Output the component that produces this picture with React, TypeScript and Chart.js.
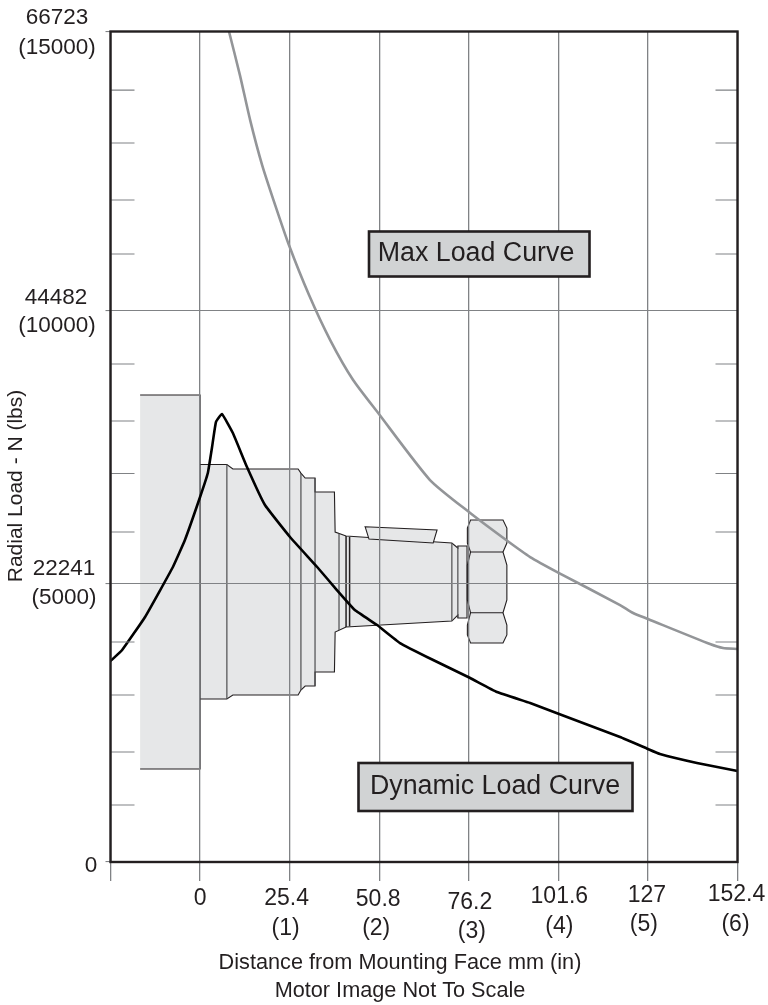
import React, { useEffect, useRef } from "react";
import { Chart, registerables } from "chart.js";

Chart.register(...registerables);

const FONT = '"Liberation Sans", Arial, sans-serif';
const INK = "#231f20";
const GRID = "#808285";

// Axis ticks (lbs)
const xTickValues = [-25.4, 0, 25.4, 50.8, 76.2, 101.6, 127, 152.4];
const yGridValues = [0, 5021, 9960, 15000];
const yMinorValues = [1029, 1987, 3016, 3973, 5960, 7016, 7964, 8994, 10980, 11956, 12985, 13942];

// Tick labels
const xLabelValues = [0, 25.4, 50.8, 76.2, 101.6, 127, 152.4];
const xLabelMm = ["0", "25.4", "50.8", "76.2", "101.6", "127", "152.4"];
const xLabelIn = ["", "(1)", "(2)", "(3)", "(4)", "(5)", "(6)"];
const yLabelN = ["66723", "44482", "22241", "0"];
const yLabelLbs = ["(15000)", "(10000)", "(5000)", ""];

// Curves (mm, lbs)
const maxX = [8.2, 11.3, 14.2, 17.6, 21.3, 25.2, 30.9, 36.9, 43.4, 50.5, 65.2, 76.6, 86.8, 93.6, 101.8, 119.1, 122.8, 127, 144.6, 148.3, 152.4];
const maxY = [15000, 14213, 13400, 12588, 11865, 11143, 10240, 9427, 8705, 8109, 6899, 6303, 5815, 5508, 5219, 4641, 4497, 4389, 3937, 3865, 3847];
const dynX = [-25.4, -22.1, -15.6, -7.7, -4.3, 0, 2.2, 3.4, 4.5, 6.2, 9.3, 13.3, 18.4, 25.5, 33.2, 38.8, 43.9, 50.2, 56.7, 66.1, 76.6, 84.2, 93.6, 101.8, 119.1, 127, 130.4, 140.9, 152.4];
const dynY = [3630, 3829, 4425, 5328, 5815, 6592, 7025, 7495, 7946, 8091, 7748, 7134, 6447, 5870, 5328, 4912, 4551, 4280, 3955, 3648, 3323, 3070, 2872, 2673, 2258, 2041, 1950, 1788, 1643];

// Motor image, in chart units (mm, lbs)
const flange = [[-17, 8434], [0, 8434], [0, 1680], [-17, 1680]];
const bodyX = [0, 7.6, 9.3, 27.8, 28.6, 29.8, 32.6, 32.6, 38.1, 38.3, 41.4, 71.4, 73.1, 73.1, 75.7];
const bodyTop = [7179, 7179, 7098, 7098, 7025, 6935, 6935, 6682, 6682, 5960, 5888, 5761, 5671, 5707, 5707];
const bodyBottom = [2944, 2944, 3016, 3016, 3106, 3179, 3179, 3431, 3431, 4154, 4244, 4352, 4461, 4407, 4407];
const nut = [
  [76.7, 6177], [85.9, 6177], [87, 6032], [87, 5761], [85.9, 5599], [87, 5364], [87, 4732], [85.9, 4502], [87, 4280], [87, 4100], [85.9, 3955],
  [76.7, 3955], [75.8, 4100], [75.8, 4280], [76.7, 4502], [75.8, 4732], [75.8, 5364], [76.7, 5599], [75.8, 5761], [75.8, 6032],
];
const motorKey = [[46.8, 6056], [67.2, 5996], [66.1, 5761], [47.9, 5833]];
const sectionX = [7.6, 28.6, 32.6, 39.4, 71.4, 73.1];
const sectionTop = [7179, 7025, 6935, 5930, 5761, 5707];
const sectionBottom = [2944, 3106, 3179, 4190, 4352, 4407];
const collarX = [41.4, 42.4];
const collarTop = [5888, 5870];
const collarBottom = [4244, 4260];
const nutLines = [5599, 4502];

// Annotation text
const maxLabel = "Max Load Curve";
const dynLabel = "Dynamic Load Curve";
const xTitle = ["Distance from Mounting Face mm (in)", "Motor Image Not To Scale"];
const yTitle = "Radial Load - N (lbs)";

// Layout only
const xLabelMmLayout = [[0, 899], [-3, 899], [-1, 900], [1, 903], [1, 897], [-1, 896], [-1, 895]];
const xLabelInLayout = [[0, 929], [-4, 929], [-3, 929], [3, 932], [1, 927], [-4, 925], [-2, 925]];
const yLabelLayout = [[57, 18, 57, 48], [56, 298, 57, 326], [64, 569, 64, 598], [91, 866, 91, 890]];

const motorPlugin = {
  id: "motorImage",
  beforeDraw(chart: any) {
    const { ctx, scales } = chart;
    const X = (v: number) => scales.x.getPixelForValue(v);
    const Y = (v: number) => scales.y.getPixelForValue(v);
    const poly = (pts: number[][]) => {
      ctx.beginPath();
      pts.forEach(([a, b], i) => (i ? ctx.lineTo(X(a), Y(b)) : ctx.moveTo(X(a), Y(b))));
      ctx.closePath();
    };
    const vertical = (x: number, top: number, bottom: number) => {
      ctx.beginPath();
      ctx.moveTo(X(x), Y(top));
      ctx.lineTo(X(x), Y(bottom));
      ctx.stroke();
    };
    ctx.save();
    ctx.fillStyle = "#ffffff";
    ctx.fillRect(0, 0, chart.width, chart.height);
    ctx.fillStyle = "#e6e7e8";
    ctx.strokeStyle = INK;
    ctx.lineWidth = 1.1;
    // flange: no stroke on the left side
    poly(flange);
    ctx.fill();
    ctx.beginPath();
    ctx.moveTo(X(flange[0][0]), Y(flange[0][1]));
    flange.slice(1).forEach(([a, b]) => ctx.lineTo(X(a), Y(b)));
    ctx.stroke();
    // body profile
    const top = bodyX.map((x, i) => [x, bodyTop[i]]);
    const bottom = bodyX.map((x, i) => [x, bodyBottom[i]]).reverse();
    poly([...top, ...bottom]);
    ctx.fill();
    ctx.stroke();
    // key and nut
    [motorKey, nut].forEach((p) => {
      poly(p);
      ctx.fill();
      ctx.stroke();
    });
    ctx.beginPath();
    nutLines.forEach((v) => {
      ctx.moveTo(X(76.7), Y(v));
      ctx.lineTo(X(85.9), Y(v));
    });
    ctx.stroke();
    // section lines
    ctx.lineWidth = 1.2;
    ctx.strokeStyle = "#4d4d4f";
    sectionX.forEach((x, i) => vertical(x, sectionTop[i], sectionBottom[i]));
    ctx.lineWidth = 1.5;
    ctx.strokeStyle = INK;
    collarX.forEach((x, i) => vertical(x, collarTop[i], collarBottom[i]));
    ctx.restore();
  },
};

const framePlugin = {
  id: "frameAndText",
  afterDatasetsDraw(chart: any) {
    const { ctx, chartArea: a, scales } = chart;
    const Y = (v: number) => scales.y.getPixelForValue(v);
    ctx.save();
    // minor ticks
    ctx.strokeStyle = GRID;
    ctx.lineWidth = 1.1;
    yMinorValues.forEach((v) => {
      ctx.beginPath();
      ctx.moveTo(a.left, Y(v));
      ctx.lineTo(a.left + 24, Y(v));
      ctx.moveTo(a.right - 22, Y(v));
      ctx.lineTo(a.right, Y(v));
      ctx.stroke();
    });
    // frame
    ctx.strokeStyle = INK;
    ctx.lineWidth = 2.4;
    ctx.strokeRect(a.left, a.top, a.right - a.left, a.bottom - a.top);
    ctx.restore();
  },
  afterDraw(chart: any) {
    const { ctx, scales } = chart;
    const X = (v: number) => scales.x.getPixelForValue(v);
    ctx.save();
    ctx.fillStyle = INK;
    ctx.textBaseline = "middle";
    ctx.textAlign = "center";
    ctx.font = `23px ${FONT}`;
    xLabelValues.forEach((v, i) => {
      ctx.fillText(xLabelMm[i], X(v) + xLabelMmLayout[i][0], xLabelMmLayout[i][1]);
      if (xLabelIn[i]) ctx.fillText(xLabelIn[i], X(v) + xLabelInLayout[i][0], xLabelInLayout[i][1]);
    });
    ctx.font = `22.5px ${FONT}`;
    yLabelN.forEach((t, i) => {
      const [x1, y1, x2, y2] = yLabelLayout[i];
      ctx.fillText(t, x1, y1);
      if (yLabelLbs[i]) ctx.fillText(yLabelLbs[i], x2, y2);
    });
    ctx.font = `21.7px ${FONT}`;
    ctx.fillText(xTitle[0], 400, 963);
    ctx.fillText(xTitle[1], 400, 991);
    ctx.save();
    ctx.translate(16, 486);
    ctx.rotate(-Math.PI / 2);
    ctx.font = `21px ${FONT}`;
    ctx.fillText(yTitle, 0, 0);
    ctx.restore();
    // annotation boxes
    const box = (x: number, y: number, w: number, h: number, t: string, tx: number, ty: number) => {
      ctx.fillStyle = "#d1d3d4";
      ctx.strokeStyle = INK;
      ctx.lineWidth = 2.6;
      ctx.fillRect(x, y, w, h);
      ctx.strokeRect(x, y, w, h);
      ctx.fillStyle = INK;
      ctx.font = `26.8px ${FONT}`;
      ctx.fillText(t, tx, ty);
    };
    box(369, 231.5, 220.5, 45, maxLabel, 476, 254);
    box(358.5, 763, 274, 48, dynLabel, 495, 787);
    ctx.restore();
  },
};

export default function App() {
  const ref = useRef<HTMLCanvasElement>(null);
  useEffect(() => {
    const chart = new Chart(ref.current!, {
      type: "scatter",
      data: {
        datasets: [
          {
            label: "Max Load Curve",
            data: maxX.map((x, i) => ({ x, y: maxY[i] })),
            showLine: true,
            borderColor: "#939598",
            borderWidth: 2.6,
            pointRadius: 0,
            tension: 0.2,
          },
          {
            label: "Dynamic Load Curve",
            data: dynX.map((x, i) => ({ x, y: dynY[i] })),
            showLine: true,
            borderColor: "#000000",
            borderWidth: 2.6,
            pointRadius: 0,
            tension: 0.1,
          },
        ],
      },
      options: {
        responsive: false,
        animation: false,
        layout: { padding: { top: 31.5, right: 30.5, left: 0, bottom: 0 } },
        plugins: { legend: { display: false }, title: { display: false }, tooltip: { enabled: false } },
        scales: {
          x: {
            type: "linear",
            min: -25.4,
            max: 152.4,
            afterBuildTicks: (s: any) => {
              s.ticks = xTickValues.map((value) => ({ value }));
            },
            afterFit: (s: any) => {
              s.height = 143;
              s.paddingLeft = 0;
              s.paddingRight = 0;
            },
            ticks: { display: false },
            border: { display: false },
            grid: { color: GRID, lineWidth: 1.3, tickLength: 19, drawOnChartArea: true },
          },
          y: {
            type: "linear",
            min: 0,
            max: 15000,
            afterBuildTicks: (s: any) => {
              s.ticks = yGridValues.map((value) => ({ value }));
            },
            afterFit: (s: any) => {
              s.width = 110.5;
              s.paddingTop = 0;
              s.paddingBottom = 0;
            },
            ticks: { display: false },
            border: { display: false },
            grid: { color: GRID, lineWidth: 1.1, tickLength: 5 },
          },
        },
      },
      plugins: [motorPlugin, framePlugin],
    } as any);
    return () => chart.destroy();
  }, []);
  return (
    <div style={{ position: "absolute", left: 0, top: 0, width: 768, height: 1005 }}>
      <canvas ref={ref} width={768} height={1005} style={{ display: "block" }} />
    </div>
  );
}
